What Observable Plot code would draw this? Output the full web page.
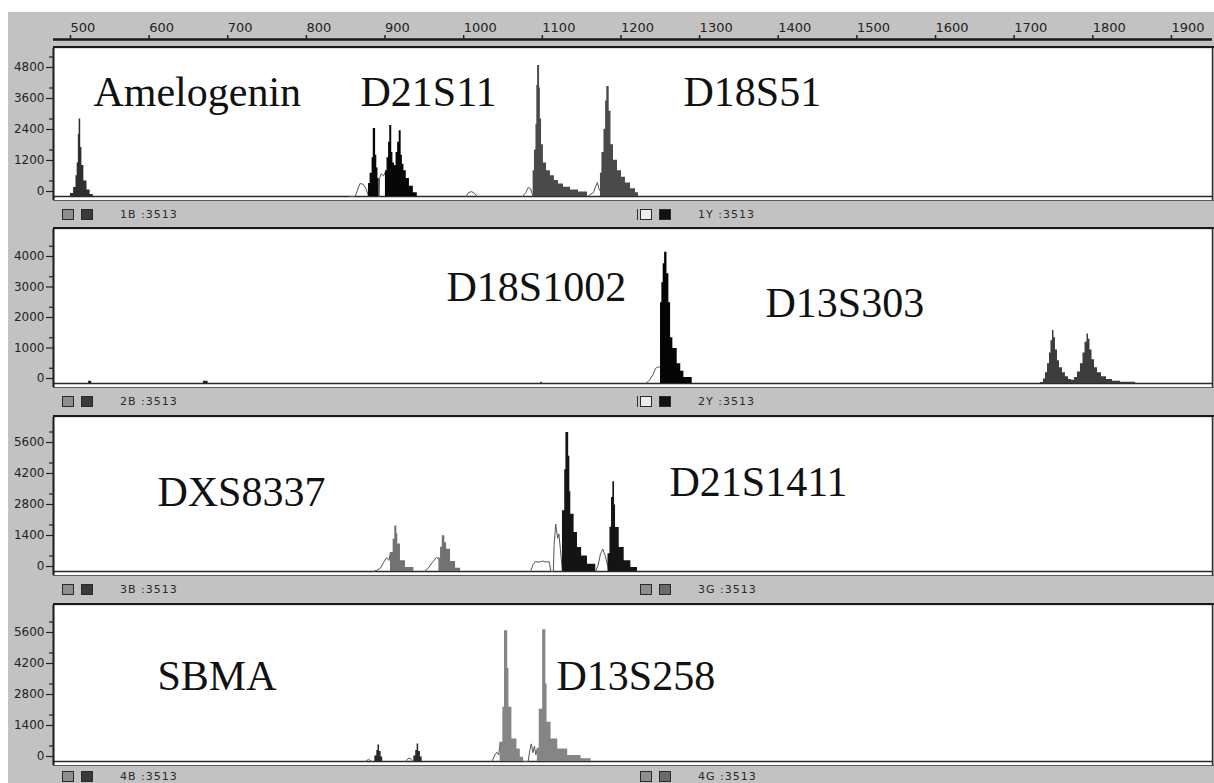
<!DOCTYPE html>
<html><head><meta charset="utf-8">
<script src="https://cdn.jsdelivr.net/npm/d3@7"></script>
<script src="https://cdn.jsdelivr.net/npm/@observablehq/plot@0.6"></script>
<style>
body{margin:0;background:#fff;}
#root{position:relative;width:1214px;height:783px;overflow:hidden;background:#fff;font-family:"DejaVu Sans",sans-serif;}
#bg{position:absolute;left:8px;top:12px;width:1206px;height:771px;background:#c2c2c2;}
.bar{position:absolute;left:53px;width:1161px;box-sizing:border-box;border-top:1px solid #5a5a5a;}
.line{position:absolute;left:53px;width:1161px;height:2px;background:#1a1a1a;}
.icon{position:absolute;width:12px;height:11px;border:1px solid #2a2a2a;box-sizing:border-box;}
.st{position:absolute;font-size:11px;color:#2a2a2a;letter-spacing:1px;font-family:"DejaVu Sans",sans-serif;line-height:11px;}
</style></head>
<body>
<div id="root"><div id="bg"></div></div>
<script>
// ---------- data ----------
const xTicks = [500,600,700,800,900,1000,1100,1200,1300,1400,1500,1600,1700,1800,1900];
const xDomain = [478.4, 1952.2];

// Panel 1 (1B / 1Y)
const p1Ticks = [0,1200,2400,3600,4800];
const p1Minor = [600,1800,3000,4200,5400];
const p1Amelogenin = [[496,0],[500,120],[504,350],[507,800],[508.5,1300],[510,2400],[511,3000],[513,1900],[514.5,1200],[517,600],[521,250],[525,80],[529,0]];
const p1D21S11 = [[879,500],[881,900],[883.5,1500],[885,2630],[888,1600],[889.5,1100],[891,700],[892.5,0]];
const p1D21S11b = [[900.5,1000],[902.5,1500],[904.5,2100],[906,2750],[908.5,1700],[910,1300],[912,1200],[914,1700],[916,2100],[918,2550],[920.5,1600],[922,1250],[924,1000],[927,700],[931,400],[936,150],[941,0]];
const p1D21S11Out = [[855,0],[862,0],[865,250],[868,500],[872,480],[876,300],[879,0]];
const p1D21S11Out2 = [[892.5,0],[893,700],[895,880],[898,800],[900.5,950]];
const p1Small = [[1003,0],[1006,150],[1010,190],[1014,120],[1017,0]];
const p1D18S51 = [[1088.3,1000],[1090,1800],[1091.9,2800],[1093,4300],[1094,5070],[1096.5,4200],[1097.5,3000],[1099,2000],[1101.4,1300],[1105.3,1000],[1110.3,800],[1115.4,620],[1120.5,480],[1126.9,360],[1135.8,250],[1146,170],[1157.5,0]];
const p1D18S51b = [[1173.9,900],[1175.8,1700],[1178.4,2600],[1180.5,3700],[1182,4260],[1185,3300],[1187.3,2000],[1190.5,1400],[1195.6,1000],[1200.7,750],[1205.7,520],[1212.1,300],[1218.5,150],[1222.3,0]];
const p1D18S51Out = [[1075,0],[1079,150],[1082,350],[1085,300],[1088.3,0]];
const p1D18S51Out2 = [[1157.5,0],[1160,60],[1165,150],[1168,400],[1170,540],[1172,300],[1173.9,200]];
const p1Labels = [{name:"Amelogenin",x:529.2,y:4026},{name:"D21S11",x:868.8,y:4026},{name:"D18S51",x:1279.5,y:4026}];

// Panel 2 (2B / 2Y)
const p2Ticks = [0,1000,2000,3000,4000];
const p2Minor = [500,1500,2500,3500,4500];
const p2Blip1 = [[522,0],[523,70],[527,0]];
const p2Blip2 = [[668,0],[669,70],[675,0]];
const p2Blip3 = [[1097,0],[1098,40],[1100,0]];
const p2D18S1002 = [[1250.3,2650],[1252,3300],[1253.7,3930],[1255.5,4300],[1258.5,3600],[1260.9,2650],[1263.1,1500],[1266,1150],[1271.5,650],[1276,400],[1280,200],[1290.6,0]];
const p2D18S1002Out = [[1231,0],[1236,100],[1241,300],[1244,500],[1247,540],[1250.3,540]];
const p2D13S303 = [[1733.5,30],[1737.3,150],[1739.8,350],[1742.4,650],[1744.9,1000],[1746.8,1400],[1748.7,1740],[1750.6,1500],[1752.5,1100],[1755.1,750],[1757.6,520],[1761.4,350],[1765.2,220],[1769.1,130],[1772.9,110],[1776.7,200],[1780.5,380],[1784.3,650],[1787.5,1000],[1790.1,1350],[1792.6,1620],[1794.5,1450],[1796.4,1100],[1799,780],[1802.2,520],[1806,350],[1811.1,220],[1817.4,130],[1825.1,70],[1835.3,40],[1854.5,0]];
const p2Labels = [{name:"D18S1002",x:978.1,y:3148},{name:"D13S303",x:1383.8,y:2623}];

// Panel 3 (3B / 3G)
const p3Ticks = [0,1400,2800,4200,5600];
const p3Minor = [700,2100,3500,4900,6300];
const p3DXS8337a = [[906.9,860],[910.3,1460],[912.4,2060],[915,1700],[916.2,1240],[919.6,480],[926,180],[936.6,0]];
const p3DXS8337b = [[968.5,600],[970.6,1100],[972.8,1610],[976,1300],[978.3,1000],[983.3,450],[989.7,150],[996.1,0]];
const p3DXSOut1 = [[885,0],[890,60],[894,150],[898,400],[902,630],[905,500],[906.9,860]];
const p3DXSOut2 = [[950,0],[955,150],[960,400],[965,630],[968.5,600]];
const p3D21S1411a = [[1125.6,2740],[1128.5,4600],[1130,6280],[1133.5,5200],[1135,3600],[1136.2,2590],[1140.4,1760],[1144.7,1080],[1150,700],[1157.4,330],[1168,0]];
const p3D21S1411b = [[1183.5,800],[1186,2000],[1188,3340],[1189.7,4050],[1191.8,3000],[1193.1,1990],[1197.8,1080],[1204.1,480],[1212.6,180],[1221,0]];
const p3D21Out1 = [[1085,0],[1088,300],[1091,450],[1096,420],[1100,470],[1105,430],[1108.7,450],[1110.8,0],[1114,0],[1115,1200],[1117,2140],[1119.5,1500],[1121,1700],[1123,1000],[1125.6,0]];
const p3D21Out2 = [[1168,0],[1171,300],[1174,800],[1177,1010],[1180,700],[1183.5,200]];
const p3Labels = [{name:"DXS8337",x:610.6,y:3568},{name:"D21S1411",x:1261.7,y:4019}];

// Panel 4 (4B / 4G)
const p4Ticks = [0,1400,2800,4200,5600];
const p4Minor = [700,2100,3500,4900,6300];
const p4SmallA = [[886,0],[887,250],[889.5,500],[891,750],[893,450],[895,200],[897,0]];
const p4SmallB = [[936.6,250],[939,500],[940.8,795],[942.8,450],[945,200],[947.2,0]];
const p4SmallOutA = [[875,0],[879,100],[883,0]];
const p4SmallOutB = [[926,0],[929,130],[932,150],[935,0]];
const p4D13S258a = [[1046.4,870],[1049.8,2450],[1051.9,5900],[1056,4200],[1057.5,2450],[1061.3,1020],[1067.7,570],[1072,190],[1076.2,0]];
const p4D13S258b = [[1093.7,600],[1096.1,2360],[1100.4,5950],[1104.5,3500],[1106,1775],[1111.1,1020],[1119.6,570],[1132.3,270],[1149.3,120],[1162,0]];
const p4Out1 = [[1036,0],[1039,250],[1042,420],[1044.6,300],[1046.4,870]];
const p4Out2 = [[1076.2,0],[1082,0],[1084,500],[1086,795],[1088,400],[1090,700],[1091.7,300],[1093.7,600]];
const p4Labels = [{name:"SBMA",x:610.6,y:3839},{name:"D13S258",x:1118,y:3839}];

// status bars
const statusLeft = ["1B :3513","2B :3513","3B :3513","4B :3513"];
const statusRight = ["1Y :3513","2Y :3513","3G :3513","4G :3513"];

// ---------- layout ----------
const root = document.getElementById("root");
const baseStyle = {background:"transparent", fontFamily:"DejaVu Sans, sans-serif", fontSize:"12px", color:"#222", overflow:"visible"};

function place(el, top){ el.style.position="absolute"; el.style.left="0px"; el.style.top=top+"px"; root.appendChild(el); }

// top axis
const axisPlot = Plot.plot({
  width:1214, height:46, marginLeft:53, marginRight:2, marginTop:39, marginBottom:0,
  x:{domain:xDomain, axis:null},
  y:{domain:[0,1], axis:null},
  style:{...baseStyle, fontSize:"13px"},
  marks:[
    Plot.ruleY([1], {stroke:"#1a1a1a", strokeWidth:2.5}),
    Plot.axisX(xTicks, {anchor:"top", tickSize:5, tickPadding:3, textAnchor:"start", fontSize:13, label:null, tickFormat:d=>String(d), strokeWidth:1.5})
  ]
});
place(axisPlot, 0);

const panels = [
  {T:48, B:196, k:31/1200, ticks:p1Ticks, minor:p1Minor, labels:p1Labels,
   fills:[[p1Amelogenin,"#2e2e2e"],[p1D21S11,"#070707"],[p1D21S11b,"#070707"],[p1D18S51,"#4a4a4a"],[p1D18S51b,"#4a4a4a"]],
   outs:[p1D21S11Out,p1D21S11Out2,p1Small,p1D18S51Out,p1D18S51Out2]},
  {T:229, B:383, k:0.0305, ticks:p2Ticks, minor:p2Minor, labels:p2Labels,
   fills:[[p2Blip1,"#222"],[p2Blip2,"#222"],[p2Blip3,"#222"],[p2D18S1002,"#050505"],[p2D13S303,"#3c3c3c"]],
   outs:[p2D18S1002Out]},
  {T:417, B:571, k:124/5600, ticks:p3Ticks, minor:p3Minor, labels:p3Labels,
   fills:[[p3DXS8337a,"#727272"],[p3DXS8337b,"#727272"],[p3D21S1411a,"#141414"],[p3D21S1411b,"#141414"]],
   outs:[p3DXSOut1,p3DXSOut2,p3D21Out1,p3D21Out2]},
  {T:605, B:761, k:124/5600, ticks:p4Ticks, minor:p4Minor, labels:p4Labels,
   fills:[[p4SmallA,"#2a2a2a"],[p4SmallB,"#2a2a2a"],[p4D13S258a,"#858585"],[p4D13S258b,"#858585"]],
   outs:[p4SmallOutA,p4SmallOutB,p4Out1,p4Out2]}
];

// top border of panel 1
const tb = document.createElement("div"); tb.className="line"; tb.style.top="46px"; root.appendChild(tb);

panels.forEach((p, i) => {
  const H = p.B - p.T + 4;
  const yDomain = [-4 / p.k, (p.B - p.T) / p.k];
  const svg = Plot.plot({
    width:1214, height:H, marginLeft:53, marginRight:2, marginTop:0, marginBottom:0,
    x:{domain:xDomain, axis:null},
    y:{domain:yDomain},
    style:baseStyle,
    marks:[
      Plot.frame({fill:"white", stroke:"none"}),
      Plot.ruleY([0], {stroke:"#2a2a2a", strokeWidth:1.5}),
      ...p.outs.map(d => Plot.line(d, {x:d=>d[0], y:d=>d[1], stroke:"#555", strokeWidth:1})),
      ...p.fills.map(([d,c]) => Plot.areaY(d, {x:d=>d[0], y:d=>d[1], curve:"step-after", fill:c})),
      Plot.axisY(p.ticks, {tickSize:7, tickPadding:2, dy:-5, fontSize:12, label:null, tickFormat:d=>String(d), strokeWidth:1.2}),
      Plot.axisY(p.minor, {tickSize:4, label:null, tickFormat:()=>"", strokeWidth:1.2}),
      Plot.ruleX([xDomain[0]], {stroke:"#1a1a1a", strokeWidth:2}),
      Plot.ruleX([xDomain[1]], {stroke:"#333", strokeWidth:1.5}),
      Plot.text(p.labels, {x:"x", y:"y", text:"name", textAnchor:"start", lineAnchor:"middle", fontSize:42, fontFamily:"Liberation Serif, serif", fill:"#111"})
    ]
  });
  place(svg, p.T);

  // status bar
  const barTop = p.B + 4;
  const barBottom = i < 3 ? panels[i+1].T : 783;
  const bar = document.createElement("div"); bar.className="bar";
  bar.style.top = barTop+"px"; bar.style.height=(barBottom-barTop)+"px";
  root.appendChild(bar);
  if (i < 3) { const l = document.createElement("div"); l.className="line"; l.style.top=(barBottom-2)+"px"; root.appendChild(l); }
  const cy = i < 3 ? Math.round((barTop + barBottom - 2)/2) : 776;
  const mkIcon = (x, fill) => { const d=document.createElement("div"); d.className="icon"; d.style.left=x+"px"; d.style.top=(cy-5)+"px"; d.style.background=fill; root.appendChild(d); };
  mkIcon(62, "#8e8e8e"); mkIcon(81, "#3a3a3a");
  const rightFills = i < 2 ? ["#ececec","#111"] : ["#8e8e8e","#6a6a6a"];
  mkIcon(640, rightFills[0]); mkIcon(659, rightFills[1]);
  if (i < 2) { const v=document.createElement("div"); v.style.cssText=`position:absolute;left:637px;top:${cy-5}px;width:1px;height:11px;background:#333`; root.appendChild(v); }
  const t1 = document.createElement("div"); t1.className="st"; t1.textContent=statusLeft[i]; t1.style.left="120px"; t1.style.top=(cy-5)+"px"; root.appendChild(t1);
  const t2 = document.createElement("div"); t2.className="st"; t2.textContent=statusRight[i]; t2.style.left="698px"; t2.style.top=(cy-5)+"px"; root.appendChild(t2);
});
</script>
</body></html>
